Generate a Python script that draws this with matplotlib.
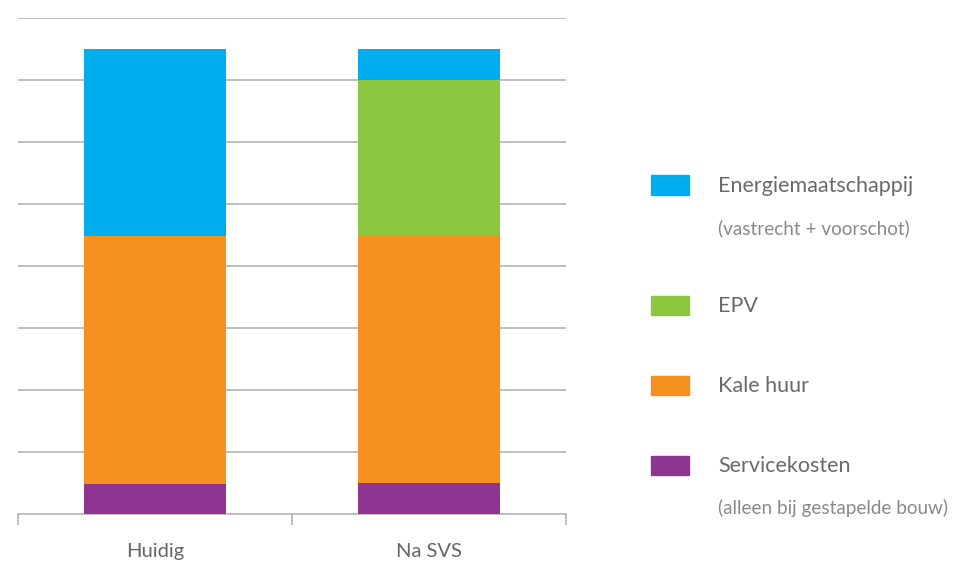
import matplotlib.pyplot as plt
from matplotlib.patches import Rectangle
import numpy as np

categories = ['Huidig', 'Na SVS']
series = ['Servicekosten', 'Kale huur', 'EPV', 'Energiemaatschappij']
servicekosten = [0.49, 0.5]
kale_huur = [4.0, 3.99]
epv = [0.0, 2.51]
energie = [3.01, 0.5]
colors = ['#8E3591', '#F6901E', '#8DC63F', '#00AEEF']

legend_items = [
    ('Energiemaatschappij', '(vastrecht + voorschot)', '#00AEEF'),
    ('EPV', None, '#8DC63F'),
    ('Kale huur', None, '#F6901E'),
    ('Servicekosten', '(alleen bij gestapelde bouw)', '#8E3591'),
]

plt.rcParams['font.family'] = ['Lato', 'DejaVu Sans']

W, H = 954, 562
fig = plt.figure(figsize=(W / 100, H / 100), dpi=100)
ax = fig.add_axes([18 / W, 48 / H, 548 / W, 496 / H])

x = np.array([0.5, 1.5])
bottom = np.zeros(2)
for vals, c in zip([servicekosten, kale_huur, epv, energie], colors):
    ax.bar(x, vals, width=0.52, bottom=bottom, color=c, zorder=3)
    bottom += np.array(vals)

ax.set_xlim(0, 2)
ax.set_ylim(0, 8)
for y in range(1, 9):
    ax.axhline(y, color='#b3b3b3', lw=1.2, zorder=1)

for s in ['top', 'right', 'left']:
    ax.spines[s].set_visible(False)
ax.spines['bottom'].set_color('#b3b3b3')
ax.spines['bottom'].set_linewidth(1.2)
ax.set_yticks([])
ax.set_xticks([0, 1, 2])
ax.set_xticklabels([])
ax.tick_params(axis='x', length=8, width=1.2, color='#b3b3b3', direction='out')
ax.set_xticks(x, minor=True)
ax.set_xticklabels(categories, minor=True, fontsize=14.5, color='#666666')
ax.tick_params(axis='x', which='minor', length=0, pad=21)

# legend drawn by hand to the right
ys = [185, 305, 385, 465]
for (label, sub, c), yc in zip(legend_items, ys):
    fig.patches.append(Rectangle((651 / W, 1 - (yc + 9.5) / H), 38 / W, 19 / H,
                                 color=c, transform=fig.transFigure))
    fig.text(718 / W, 1 - (yc + 1) / H, label, fontsize=15.5, color='#6a6a6a',
             va='center', ha='left')
    if sub:
        fig.text(718 / W, 1 - (yc + 43) / H, sub, fontsize=13.6, color='#8a8a8a',
                 va='center', ha='left')

plt.savefig('out.png', dpi=100)
